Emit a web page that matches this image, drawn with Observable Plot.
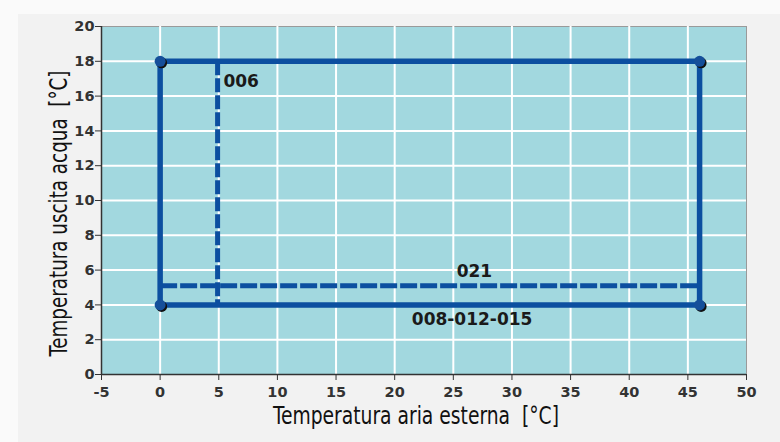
<!DOCTYPE html>
<html><head><meta charset="utf-8">
<script src="https://cdn.jsdelivr.net/npm/d3@7"></script>
<script src="https://cdn.jsdelivr.net/npm/@observablehq/plot@0.6"></script>
<style>
html,body{margin:0;padding:0;background:#f2f2f2;}
#wrap{position:relative;width:780px;height:442px;overflow:hidden;}
#topband{position:absolute;left:0;top:0;width:780px;height:14px;background:#fafafa;}
#leftband{position:absolute;left:0;top:0;width:18px;height:442px;background:#fafafa;}
#chart{position:absolute;left:0;top:0;}
#chart g[aria-label="x-axis tick label"] text,
#chart g[aria-label="y-axis tick label"] text{font-family:'DejaVu Sans',sans-serif !important;font-weight:bold !important;font-size:14.5px !important;fill:#333 !important;}
</style></head>
<body><div id="wrap"><div id="topband"></div><div id="leftband"></div><div id="chart"></div></div>
<script>
const xTicks = [-5,0,5,10,15,20,25,30,35,40,45,50];
const yTicks = [0,2,4,6,8,10,12,14,16,18,20];
const envelopeX = [0, 46, 46, 0, 0];
const envelopeY = [4, 4, 18, 18, 4];
const cornerX = [0, 46, 46, 0];
const cornerY = [18, 18, 4, 4];
const line006X = [4.9, 4.9];
const line006Y = [18, 4];
const line021X = [0, 46];
const line021Y = [5.1, 5.1];
const labelText = ["006", "021", "008-012-015"];
const labelX = [5.4, 26.8, 26.6];
const labelY = [16.85, 5.9, 3.15];
const labelAnchor = ["start", "middle", "middle"];
const xLabel = "Temperatura aria esterna  [°C]";
const yLabel = "Temperatura uscita acqua  [°C]";

const pts = (xs, ys) => xs.map((x, i) => ({x, y: ys[i]}));
const labels = labelText.map((t, i) => ({t, x: labelX[i], y: labelY[i], a: labelAnchor[i]}));
const blue = "#0c4fa0";
const titleFont = "'DejaVu Sans Condensed', 'DejaVu Sans', sans-serif";
const labelStyle = {x: "x", y: "y", text: "t", fill: "#1a1a1a", fontSize: 17, fontWeight: "bold", fontFamily: "'DejaVu Sans', sans-serif"};

const chart = Plot.plot({
  width: 780, height: 442,
  marginLeft: 101, marginRight: 34, marginTop: 26, marginBottom: 68,
  style: {background: "transparent", overflow: "visible"},
  x: {domain: [-5, 50], ticks: xTicks},
  y: {domain: [0, 20], ticks: yTicks},
  marks: [
    Plot.frame({fill: "#a2d8df", stroke: "#9a9a9a", strokeWidth: 1}),
    Plot.gridX(xTicks.filter(d => d > -5 && d < 50), {stroke: "#ffffff", strokeOpacity: 1, strokeWidth: 2}),
    Plot.gridY(yTicks.filter(d => d > 0 && d < 20), {stroke: "#ffffff", strokeOpacity: 1, strokeWidth: 2}),
    Plot.ruleX([-5], {stroke: "#333", strokeWidth: 1.5}),
    Plot.ruleY([0], {stroke: "#333", strokeWidth: 1.5}),
    Plot.axisX({ticks: xTicks, tickSize: 6, tickPadding: 6, stroke: "#333", fill: "#333", label: null, tickFormat: d => String(d)}),
    Plot.axisY({ticks: yTicks, tickSize: 6, tickPadding: 1, stroke: "#333", fill: "#333", label: null, tickFormat: d => String(d)}),
    Plot.line(pts(line006X, line006Y), {x: "x", y: "y", stroke: blue, strokeWidth: 5, strokeDasharray: "14,3", strokeLinecap: "butt"}),
    Plot.line(pts(line021X, line021Y), {x: "x", y: "y", stroke: blue, strokeWidth: 5, strokeDasharray: "17,3", strokeLinecap: "butt"}),
    Plot.line(pts(envelopeX, envelopeY), {x: "x", y: "y", stroke: blue, strokeWidth: 5.5, strokeLinejoin: "miter", strokeLinecap: "square"}),
    Plot.dot(pts(cornerX, cornerY), {x: "x", y: "y", r: 5.5, fill: "#111", dx: 1.5, dy: 1.5}),
    Plot.dot(pts(cornerX, cornerY), {x: "x", y: "y", r: 5.5, fill: "#154f9a"}),
    Plot.text(labels.filter(d => d.a === "start"), {...labelStyle, textAnchor: "start"}),
    Plot.text(labels.filter(d => d.a === "middle"), {...labelStyle, textAnchor: "middle"}),
    Plot.text([xLabel], {frameAnchor: "bottom", textAnchor: "middle", dx: -8, dy: 49, fill: "#111", fontSize: 25, fontFamily: titleFont}),
    Plot.text([yLabel], {frameAnchor: "left", textAnchor: "middle", dx: -43, dy: 13, rotate: -90, fill: "#111", fontSize: 25, fontFamily: titleFont})
  ]
});
document.getElementById("chart").appendChild(chart);

d3.select(chart).selectAll("text").each(function() {
  const t = this.textContent;
  if (t === xLabel || t === yLabel) {
    d3.select(this).attr("textLength", 286).attr("lengthAdjust", "spacingAndGlyphs");
  }
});
</script></body></html>
